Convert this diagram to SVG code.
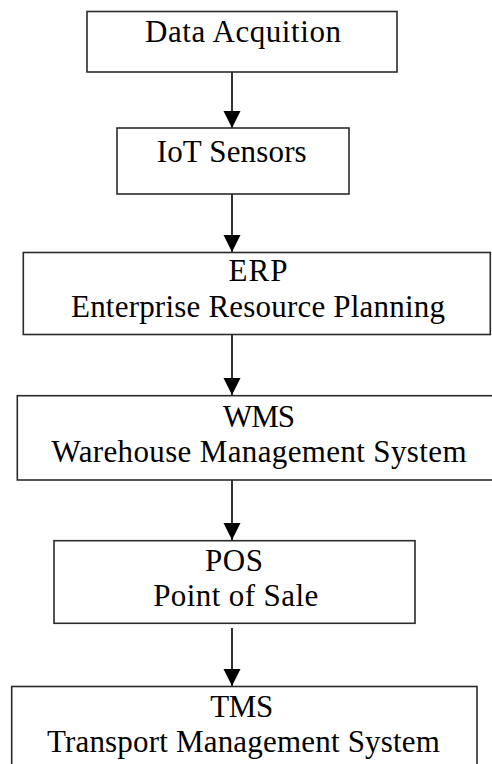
<svg xmlns="http://www.w3.org/2000/svg" width="492" height="764" viewBox="0 0 492 764">
<style>
.box{fill:#fff;stroke:#2b2b2b;stroke-width:1.6}
.t{font-family:'Liberation Serif','DejaVu Serif',serif;font-size:31px;fill:#000;text-anchor:middle}
.c{stroke:#000;stroke-width:1.6;fill:none}
</style>
<defs>
<marker id="ah" markerUnits="userSpaceOnUse" markerWidth="18" markerHeight="18" refX="17" refY="8.5" orient="auto">
<path d="M0,0 L17,8.5 L0,17 Z" fill="#000"/>
</marker>
</defs>
<rect width="492" height="764" fill="#fff"/>
<g id="connectors">
<line class="c" x1="232" y1="72" x2="232" y2="128" marker-end="url(#ah)"/>
<line class="c" x1="232" y1="194" x2="232" y2="252" marker-end="url(#ah)"/>
<line class="c" x1="232" y1="335" x2="232" y2="395" marker-end="url(#ah)"/>
<line class="c" x1="232" y1="480" x2="232" y2="540" marker-end="url(#ah)"/>
<line class="c" x1="232" y1="628" x2="232" y2="686" marker-end="url(#ah)"/>
</g>
<g id="data-acquisition">
<rect class="box" x="87" y="11.5" width="310" height="60.5"/>
<text class="t" x="243" y="42.3" textLength="196" lengthAdjust="spacing">Data Acquition</text>
</g>
<g id="iot-sensors">
<rect class="box" x="117" y="128" width="232" height="66"/>
<text class="t" x="231.7" y="161.7" textLength="150" lengthAdjust="spacing">IoT Sensors</text>
</g>
<g id="erp">
<rect class="box" x="23.3" y="252.5" width="467" height="82"/>
<text class="t" x="258" y="281" textLength="59" lengthAdjust="spacing">ERP</text>
<text class="t" x="258" y="316.7" textLength="374" lengthAdjust="spacing">Enterprise Resource Planning</text>
</g>
<g id="wms">
<rect class="box" x="17.3" y="395.7" width="484" height="84.3"/>
<text class="t" x="259" y="426.7" textLength="72" lengthAdjust="spacing">WMS</text>
<text class="t" x="259" y="462" textLength="415" lengthAdjust="spacing">Warehouse Management System</text>
</g>
<g id="pos">
<rect class="box" x="54" y="540.7" width="361" height="82.6"/>
<text class="t" x="234" y="570.7" textLength="58" lengthAdjust="spacing">POS</text>
<text class="t" x="235.7" y="606" textLength="165" lengthAdjust="spacing">Point of Sale</text>
</g>
<g id="tms">
<rect class="box" x="11.7" y="686.5" width="465.3" height="90"/>
<text class="t" x="241.7" y="716.7" textLength="63" lengthAdjust="spacing">TMS</text>
<text class="t" x="243.4" y="751.7" textLength="393" lengthAdjust="spacing">Transport Management System</text>
</g>
</svg>
